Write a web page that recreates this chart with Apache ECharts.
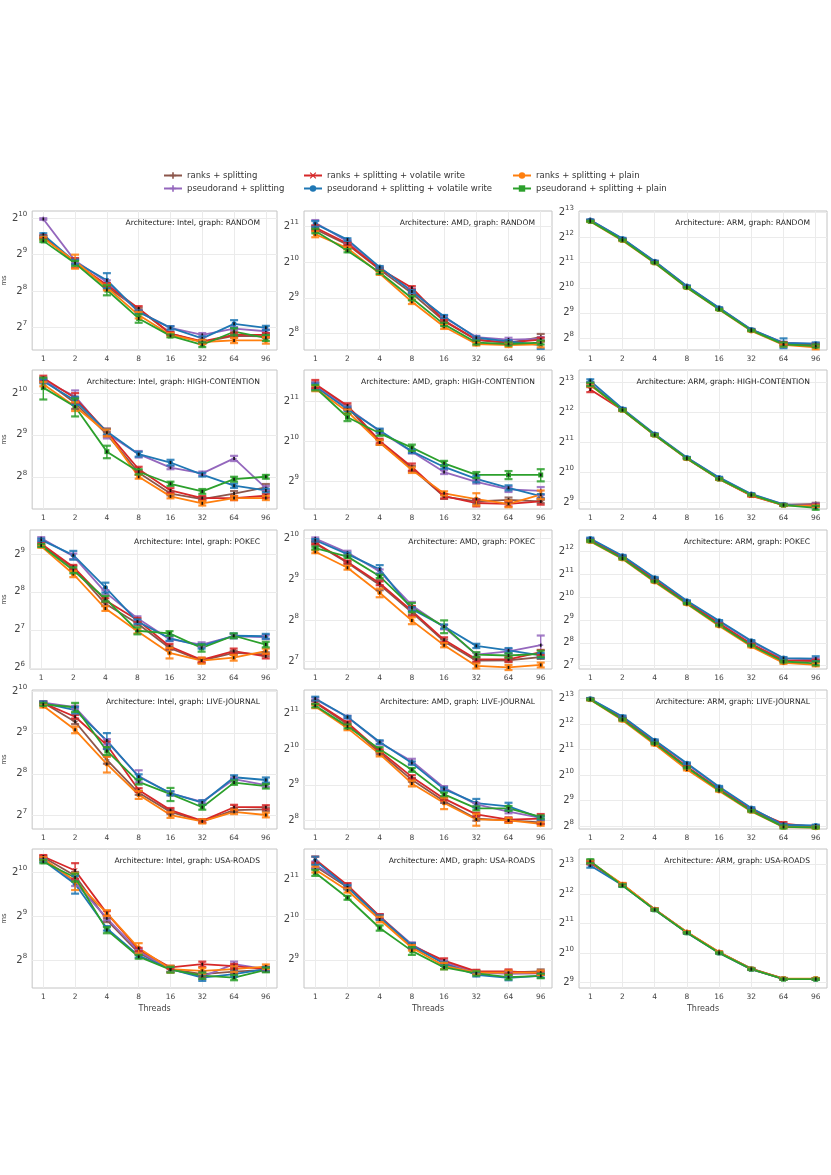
<!DOCTYPE html>
<html>
<head>
<meta charset="utf-8">
<script src="https://cdn.jsdelivr.net/npm/echarts@6/dist/echarts.min.js"></script>
<style>
html, body { margin: 0; padding: 0; background: #fff; }
#chart { width: 831px; height: 1175px; }
</style>
</head>
<body>
<div id="chart"></div>
<script>
const threads = ['1', '2', '4', '8', '16', '32', '64', '96'];
const seriesNames = [
  'ranks + splitting', 'pseudorand + splitting',
  'ranks + splitting + volatile write', 'pseudorand + splitting + volatile write',
  'ranks + splitting + plain', 'pseudorand + splitting + plain'
];
const seriesColors = ['#8c564b', '#9467bd', '#d62728', '#1f77b4', '#ff7f0e', '#2ca02c'];
const architectures = ['Intel', 'AMD', 'ARM'];
const graphs = ['RANDOM', 'HIGH-CONTENTION', 'POKEC', 'LIVE-JOURNAL', 'USA-ROADS'];

// time in ms, one row per series (same order as seriesNames), one column per thread count
const intelRandom = [
  [714, 446, 278, 181, 114, 97, 109, 108],
  [1010, 455, 304, 172, 127, 111, 125, 119],
  [724, 440, 288, 184, 114, 98, 111, 111],
  [750, 446, 315, 172, 127, 104, 137, 127],
  [700, 452, 274, 162, 111, 97, 100, 100],
  [666, 434, 261, 152, 109, 92, 118, 105]
];
const intelRandomErr = [
  [15, 15, 10, 5, 3, 3, 3, 3],
  [15, 20, 10, 5, 4, 4, 4, 4],
  [20, 40, 10, 8, 3, 3, 5, 4],
  [20, 20, 45, 5, 4, 4, 10, 5],
  [20, 60, 15, 10, 4, 4, 5, 6],
  [15, 20, 25, 12, 3, 4, 8, 6]
];
const amdRandom = [
  [1937, 1438, 885, 560, 326, 226, 214, 239],
  [2195, 1531, 917, 588, 350, 239, 228, 231],
  [2006, 1468, 898, 622, 329, 228, 215, 228],
  [2150, 1585, 929, 580, 357, 236, 220, 205],
  [1758, 1342, 820, 474, 292, 209, 205, 208],
  [1872, 1278, 838, 508, 306, 215, 209, 215]
];
const amdRandomErr = [
  [60, 30, 20, 15, 8, 5, 5, 15],
  [120, 40, 20, 25, 10, 6, 8, 8],
  [80, 40, 20, 20, 8, 5, 5, 8],
  [120, 40, 20, 15, 10, 6, 5, 15],
  [100, 30, 20, 20, 12, 6, 8, 12],
  [80, 40, 25, 20, 10, 8, 6, 8]
];
const armRandom = [
  [6517, 3875, 2077, 1045, 572, 317, 217, 208],
  [6656, 3957, 2120, 1068, 584, 322, 223, 217],
  [6562, 3901, 2091, 1053, 576, 320, 220, 214],
  [6656, 3984, 2135, 1075, 588, 324, 223, 218],
  [6383, 3768, 2034, 1024, 560, 311, 211, 197],
  [6426, 3822, 2048, 1031, 564, 315, 214, 205]
];
const armRandomErr = [
  [80, 60, 30, 15, 8, 5, 8, 6],
  [80, 60, 30, 15, 8, 5, 8, 6],
  [80, 60, 30, 15, 8, 5, 8, 6],
  [100, 80, 30, 15, 8, 5, 30, 8],
  [80, 60, 30, 15, 8, 5, 8, 10],
  [80, 60, 30, 15, 8, 5, 12, 8]
];
const intelHC = [
  [1278, 867, 516, 274, 194, 177, 194, 215],
  [1260, 969, 523, 372, 298, 271, 347, 212],
  [1314, 942, 538, 290, 204, 180, 180, 187],
  [1243, 904, 541, 372, 324, 265, 221, 204],
  [1185, 820, 530, 256, 185, 165, 180, 180],
  [1120, 815, 388, 278, 228, 201, 246, 256]
];
const intelHCErr = [
  [40, 80, 20, 10, 6, 5, 8, 12],
  [40, 100, 40, 20, 8, 8, 15, 8],
  [50, 80, 30, 12, 8, 6, 6, 6],
  [40, 60, 25, 15, 15, 8, 8, 6],
  [40, 60, 30, 8, 6, 6, 6, 6],
  [200, 120, 40, 12, 8, 8, 10, 8]
];
const amdHC = [
  [2722, 1846, 1003, 639, 393, 362, 372, 362],
  [2685, 1820, 1218, 855, 601, 508, 446, 434],
  [2759, 1898, 1031, 657, 396, 352, 347, 362],
  [2628, 1783, 1235, 861, 657, 534, 458, 396],
  [2556, 1710, 1003, 622, 416, 377, 347, 407],
  [2592, 1552, 1176, 917, 700, 572, 572, 572]
];
const amdHCErr = [
  [120, 60, 40, 30, 15, 15, 15, 10],
  [150, 60, 40, 25, 20, 15, 20, 30],
  [200, 80, 40, 40, 15, 20, 15, 20],
  [150, 60, 40, 25, 20, 30, 20, 15],
  [120, 60, 40, 30, 15, 40, 20, 30],
  [120, 100, 50, 50, 30, 30, 40, 60]
];
const armHC = [
  [7803, 4329, 2435, 1418, 885, 605, 484, 495],
  [7913, 4390, 2452, 1428, 904, 617, 488, 484],
  [6889, 4299, 2419, 1409, 879, 596, 481, 478],
  [8421, 4423, 2470, 1438, 910, 622, 488, 468],
  [7643, 4270, 2402, 1399, 873, 601, 478, 471],
  [7750, 4299, 2419, 1409, 879, 609, 481, 452]
];
const armHCErr = [
  [250, 80, 40, 20, 12, 10, 8, 12],
  [250, 80, 40, 20, 12, 10, 8, 15],
  [400, 80, 40, 20, 12, 10, 8, 10],
  [300, 80, 40, 20, 12, 10, 8, 10],
  [250, 80, 40, 20, 12, 10, 8, 10],
  [300, 80, 40, 20, 12, 10, 8, 20]
];
const intelPokec = [
  [605, 396, 206, 144, 92, 73, 84, 82],
  [680, 491, 254, 158, 108, 98, 114, 112],
  [617, 404, 220, 153, 95, 74, 87, 79],
  [662, 501, 278, 149, 110, 95, 115, 114],
  [588, 355, 189, 125, 84, 73, 77, 87],
  [597, 380, 226, 126, 120, 92, 115, 98]
];
const intelPokecErr = [
  [15, 15, 8, 5, 3, 3, 3, 3],
  [15, 25, 10, 6, 4, 4, 4, 4],
  [15, 15, 8, 6, 4, 3, 4, 3],
  [15, 40, 25, 6, 5, 4, 5, 5],
  [15, 20, 8, 5, 8, 4, 4, 4],
  [15, 20, 12, 8, 5, 6, 5, 5]
];
const amdPokec = [
  [942, 680, 468, 294, 180, 130, 131, 138],
  [1024, 809, 588, 331, 229, 144, 152, 169],
  [955, 690, 481, 302, 185, 133, 133, 150],
  [996, 787, 609, 311, 232, 167, 155, 142],
  [820, 626, 410, 256, 169, 119, 116, 121],
  [873, 755, 541, 320, 232, 144, 142, 146]
];
const amdPokecErr = [
  [20, 15, 40, 10, 6, 4, 4, 4],
  [20, 25, 20, 20, 8, 5, 6, 30],
  [20, 15, 15, 25, 8, 5, 5, 6],
  [20, 20, 45, 10, 8, 6, 6, 6],
  [20, 20, 30, 15, 6, 5, 5, 5],
  [20, 15, 15, 25, 25, 6, 5, 8]
];
const armPokec = [
  [5793, 3444, 1722, 873, 458, 244, 149, 147],
  [5997, 3566, 1808, 898, 488, 265, 158, 155],
  [5873, 3467, 1734, 879, 461, 247, 150, 149],
  [6123, 3616, 1858, 917, 501, 272, 161, 158],
  [5595, 3281, 1627, 832, 428, 228, 139, 131],
  [5673, 3327, 1664, 849, 440, 236, 145, 137]
];
const armPokecErr = [
  [150, 80, 30, 15, 8, 5, 4, 4],
  [150, 90, 30, 15, 8, 5, 4, 6],
  [150, 80, 30, 15, 8, 5, 4, 4],
  [150, 90, 40, 15, 10, 6, 5, 12],
  [150, 80, 30, 15, 8, 5, 4, 6],
  [150, 80, 30, 15, 8, 5, 4, 8]
];
const intelLJ = [
  [849, 617, 324, 186, 135, 115, 139, 141],
  [849, 787, 440, 247, 184, 160, 234, 212],
  [843, 671, 416, 195, 139, 116, 146, 146],
  [843, 749, 449, 244, 185, 158, 242, 231],
  [803, 538, 302, 180, 128, 115, 135, 128],
  [826, 787, 377, 224, 182, 146, 221, 208]
];
const intelLJErr = [
  [20, 25, 20, 6, 5, 3, 4, 4],
  [20, 20, 20, 25, 6, 4, 6, 6],
  [20, 20, 25, 6, 5, 3, 6, 5],
  [25, 40, 60, 10, 6, 6, 8, 10],
  [20, 30, 40, 12, 6, 4, 5, 5],
  [20, 60, 25, 10, 20, 6, 8, 8]
];
const amdLJ = [
  [2521, 1664, 955, 564, 372, 265, 256, 247],
  [2703, 1911, 1160, 809, 484, 350, 304, 269],
  [2556, 1710, 989, 597, 391, 288, 260, 265],
  [2740, 1911, 1176, 781, 471, 359, 336, 269],
  [2353, 1541, 929, 526, 359, 261, 256, 239],
  [2386, 1595, 1024, 685, 425, 324, 324, 274]
];
const amdLJErr = [
  [80, 50, 30, 20, 12, 10, 10, 8],
  [80, 50, 40, 40, 15, 10, 10, 8],
  [80, 50, 30, 20, 12, 10, 12, 25],
  [100, 40, 40, 25, 15, 30, 25, 8],
  [80, 60, 40, 30, 40, 30, 12, 8],
  [80, 60, 40, 25, 15, 12, 15, 8]
];
const armLJ = [
  [8024, 4706, 2470, 1278, 695, 396, 260, 251],
  [8135, 4973, 2611, 1389, 734, 413, 265, 256],
  [8079, 4772, 2504, 1287, 700, 399, 274, 252],
  [8192, 5042, 2647, 1418, 749, 419, 265, 261],
  [7968, 4545, 2353, 1193, 666, 383, 249, 246],
  [8024, 4641, 2435, 1260, 685, 388, 251, 247]
];
const armLJErr = [
  [150, 120, 50, 25, 12, 8, 6, 6],
  [150, 120, 50, 25, 12, 8, 6, 6],
  [150, 120, 50, 25, 12, 8, 12, 6],
  [150, 140, 60, 30, 15, 10, 8, 6],
  [150, 120, 50, 25, 12, 8, 6, 6],
  [150, 120, 50, 25, 12, 8, 10, 6]
];
const intelUsa = [
  [1306, 976, 484, 288, 223, 206, 214, 220],
  [1278, 879, 498, 296, 223, 198, 241, 223],
  [1323, 1060, 538, 304, 229, 241, 234, 223],
  [1243, 855, 425, 276, 223, 195, 206, 223],
  [1278, 898, 541, 311, 223, 217, 223, 232],
  [1218, 949, 413, 271, 221, 201, 195, 220]
];
const intelUsaErr = [
  [30, 60, 15, 8, 10, 8, 6, 6],
  [30, 50, 15, 8, 10, 8, 10, 6],
  [30, 130, 20, 8, 6, 10, 8, 8],
  [30, 120, 15, 8, 10, 10, 8, 8],
  [30, 120, 25, 25, 12, 10, 10, 8],
  [30, 60, 20, 8, 10, 10, 8, 8]
];
const amdUsa = [
  [2556, 1783, 1068, 644, 484, 413, 413, 419],
  [2628, 1833, 1082, 666, 491, 413, 402, 405],
  [2876, 1846, 1082, 653, 505, 419, 419, 407],
  [2818, 1783, 1060, 657, 478, 396, 375, 388],
  [2419, 1687, 1024, 630, 461, 410, 410, 410],
  [2288, 1489, 885, 597, 449, 405, 380, 388]
];
const amdUsaErr = [
  [100, 60, 50, 25, 15, 12, 12, 15],
  [150, 60, 40, 25, 15, 12, 12, 12],
  [150, 70, 40, 25, 20, 12, 15, 12],
  [200, 60, 40, 25, 15, 12, 15, 12],
  [120, 60, 50, 30, 25, 12, 15, 15],
  [120, 50, 40, 40, 15, 15, 15, 15]
];
const armUsa = [
  [8659, 5112, 2857, 1675, 1045, 714, 564, 560],
  [8780, 5077, 2876, 1675, 1045, 709, 560, 560],
  [8540, 5112, 2857, 1664, 1038, 704, 560, 560],
  [8024, 5042, 2837, 1652, 1031, 700, 560, 556],
  [8780, 5183, 2876, 1687, 1053, 709, 564, 564],
  [8901, 5007, 2837, 1652, 1031, 704, 556, 556]
];
const armUsaErr = [
  [300, 150, 60, 30, 15, 10, 8, 8],
  [300, 150, 60, 30, 15, 10, 8, 8],
  [300, 150, 60, 30, 15, 10, 8, 8],
  [400, 150, 60, 30, 15, 10, 8, 8],
  [300, 150, 60, 30, 15, 10, 8, 8],
  [400, 150, 60, 30, 15, 10, 8, 8]
];

// panel lookup: [values, errors, y extent as powers of two]
const panels = {
  'Intel RANDOM': [intelRandom, intelRandomErr, [6.38, 10.2]],
  'AMD RANDOM': [amdRandom, amdRandomErr, [7.54, 11.43]],
  'ARM RANDOM': [armRandom, armRandomErr, [7.52, 13.06]],
  'Intel HIGH-CONTENTION': [intelHC, intelHCErr, [7.23, 10.55]],
  'AMD HIGH-CONTENTION': [amdHC, amdHCErr, [8.31, 11.78]],
  'ARM HIGH-CONTENTION': [armHC, armHCErr, [8.78, 13.4]],
  'Intel POKEC': [intelPokec, intelPokecErr, [5.97, 9.63]],
  'AMD POKEC': [amdPokec, amdPokecErr, [6.82, 10.21]],
  'ARM POKEC': [armPokec, armPokecErr, [6.85, 12.95]],
  'Intel LIVE-JOURNAL': [intelLJ, intelLJErr, [6.66, 10.04]],
  'AMD LIVE-JOURNAL': [amdLJ, amdLJErr, [7.76, 11.66]],
  'ARM LIVE-JOURNAL': [armLJ, armLJErr, [7.89, 13.34]],
  'Intel USA-ROADS': [intelUsa, intelUsaErr, [7.37, 10.54]],
  'AMD USA-ROADS': [amdUsa, amdUsaErr, [8.3, 11.75]],
  'ARM USA-ROADS': [armUsa, armUsaErr, [8.82, 13.53]]
};

const plus = 'path://M3,0h2v8h-2zM0,3h8v2h-8z';
const cross = 'path://M1,0L4,3L7,0L8,1L5,4L8,7L7,8L4,5L1,8L0,7L3,4L0,1z';
const seriesSymbols = [plus, plus, cross, 'circle', 'circle', 'rect'];

const FONT = 'DejaVu Sans';
const colLeft = [29, 304, 579];
const rowTop = [211, 370, 530, 690, 849];
const W = 248, H = 139;

const chart = echarts.init(document.getElementById('chart'));
const option = {
  animation: false,
  backgroundColor: '#fff',
  textStyle: { fontFamily: FONT },
  grid: [], xAxis: [], yAxis: [], series: [], title: [],
  legend: [0, 1, 2].map(k => ({
    data: seriesNames.slice(k * 2, k * 2 + 2),
    orient: 'vertical',
    left: [158, 298, 507][k],
    top: 166,
    itemWidth: 18,
    itemHeight: 8,
    itemGap: 4,
    textStyle: { fontFamily: FONT, fontSize: 8.5, color: '#333' }
  }))
};

graphs.forEach((g, r) => {
  architectures.forEach((a, c) => {
    const idx = r * 3 + c;
    const [vals, errs, ext] = panels[a + ' ' + g];
    const ticks = [];
    for (let k = Math.ceil(ext[0]); k <= Math.floor(ext[1]); k++) ticks.push(Math.pow(2, k));

    option.grid.push({
      left: colLeft[c], top: rowTop[r], width: W, height: H,
      show: true, borderColor: '#c4c4c4', borderWidth: 1, backgroundColor: 'transparent'
    });
    option.title.push({
      text: 'Architecture: ' + a + ', graph: ' + g,
      right: 831 - (colLeft[c] + W) + 17,
      top: rowTop[r] + 8,
      padding: 0,
      textStyle: { fontFamily: FONT, fontSize: 7.6, fontWeight: 'normal', color: '#222' }
    });
    option.xAxis.push({
      type: 'value', gridIndex: idx, min: -0.35, max: 7.35,
      name: r === 4 ? 'Threads' : '', nameLocation: 'middle', nameGap: 17,
      nameTextStyle: { fontFamily: FONT, fontSize: 8, color: '#444' },
      axisLine: { show: false },
      axisTick: { show: false, customValues: [0, 1, 2, 3, 4, 5, 6, 7] },
      axisLabel: {
        customValues: [0, 1, 2, 3, 4, 5, 6, 7], margin: 5,
        fontFamily: FONT, fontSize: 7.5, color: '#444',
        formatter: v => threads[Math.round(v)]
      },
      splitLine: { show: true, lineStyle: { color: '#ebebeb', width: 1 } }
    });
    option.yAxis.push({
      type: 'log', logBase: 2, gridIndex: idx,
      min: Math.pow(2, ext[0]), max: Math.pow(2, ext[1]),
      name: c === 0 ? 'ms' : '', nameLocation: 'middle', nameGap: 22, nameRotate: 90,
      nameTextStyle: { fontFamily: FONT, fontSize: 7, color: '#444' },
      axisLine: { show: false },
      axisTick: { show: false, customValues: ticks },
      axisLabel: {
        customValues: ticks, margin: 5,
        formatter: v => '{b|2}{s|' + Math.round(Math.log2(v)) + '}',
        rich: {
          b: { fontFamily: FONT, fontSize: 10, color: '#444' },
          s: { fontFamily: FONT, fontSize: 7, color: '#444', padding: [0, 0, 8, 0] }
        }
      },
      splitLine: { show: true, lineStyle: { color: '#ebebeb', width: 1 } }
    });

    vals.forEach((row, s) => {
      const color = seriesColors[s];
      option.series.push({
        type: 'line', name: seriesNames[s], xAxisIndex: idx, yAxisIndex: idx,
        data: row.map((v, i) => [i, v]),
        symbol: seriesSymbols[s], symbolSize: 5,
        lineStyle: { color, width: 1.8 }, itemStyle: { color },
        z: 2 + s * 0.01
      });
      option.series.push({
        type: 'custom', xAxisIndex: idx, yAxisIndex: idx, silent: true,
        z: 3 + s * 0.01,
        data: row.map((v, i) => [i, v, v - errs[s][i], v + errs[s][i]]),
        renderItem: (params, api) => {
          const p = api.coord([api.value(0), api.value(1)]);
          const lo = api.coord([api.value(0), api.value(2)]);
          const hi = api.coord([api.value(0), api.value(3)]);
          const w = 4;
          const bar = { stroke: color, lineWidth: 1.3 };
          const cap = { stroke: color, lineWidth: 2.2, opacity: 0.85 };
          return {
            type: 'group',
            children: [
              { type: 'line', shape: { x1: p[0], y1: lo[1], x2: p[0], y2: hi[1] }, style: bar },
              { type: 'line', shape: { x1: p[0] - w, y1: lo[1], x2: p[0] + w, y2: lo[1] }, style: cap },
              { type: 'line', shape: { x1: p[0] - w, y1: hi[1], x2: p[0] + w, y2: hi[1] }, style: cap },
              { type: 'rect', shape: { x: p[0] - 0.8, y: p[1] - 1.5, width: 1.6, height: 3 }, style: { fill: '#111' } }
            ]
          };
        }
      });
    });
  });
});

chart.setOption(option);
</script>
</body>
</html>
